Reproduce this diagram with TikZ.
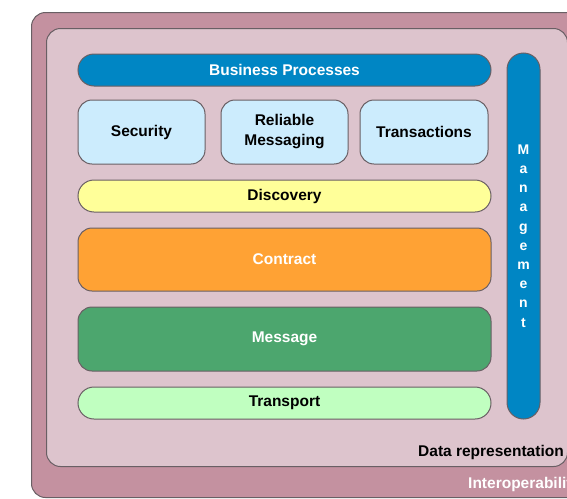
\documentclass[tikz,border=0pt]{standalone}
\usepackage{fontspec}
\setmainfont{Liberation Sans}
\usepackage{xcolor}
\usepackage{tikz}
\usetikzlibrary{shapes.geometric, positioning}

\definecolor{outerfill}{RGB}{196,145,160}
\definecolor{innerfill}{RGB}{221,196,205}
\definecolor{edgegray}{RGB}{105,95,100}
\definecolor{bizblue}{RGB}{0,134,196}
\definecolor{qosblue}{RGB}{204,236,253}
\definecolor{discyellow}{RGB}{255,255,153}
\definecolor{controrange}{RGB}{255,162,52}
\definecolor{msggreen}{RGB}{76,166,110}
\definecolor{transgreen}{RGB}{192,255,192}

\tikzstyle{frame} = [rectangle, rounded corners=14pt, draw=edgegray, line width=1pt, anchor=north west]
\tikzstyle{layer} = [rectangle, minimum width=413pt, text centered, draw=edgegray, line width=1pt, font=\fontsize{15.5}{20}\selectfont\bfseries]
\tikzstyle{thin} = [layer, minimum height=32pt, rounded corners=16pt]
\tikzstyle{thick} = [layer, minimum height=63pt, rounded corners=14pt]
\tikzstyle{qos} = [layer, minimum width=127pt, minimum height=64pt, rounded corners=14pt, fill=qosblue, align=center]
\tikzstyle{caption} = [font=\fontsize{15.5}{20}\selectfont\bfseries, inner sep=0pt]

\begin{document}
\begin{tikzpicture}[x=1pt, y=-1pt]
  \useasboundingbox (0,0) rectangle (567,498);
  \clip (0,0) rectangle (567,498);

  % frames
  \node (interop) [frame, fill=outerfill, minimum width=600pt, minimum height=485pt] at (31,12) {};
  \node (datarep) [frame, fill=innerfill, minimum width=521pt, minimum height=438pt] at (46,28) {};

  % layers
  \node (business)  [thin, fill=bizblue, text=white] at (284.5,70) {Business Processes};
  \node (security)  [qos] at (141.5,132) {Security};
  \node (reliable)  [qos] at (284.5,132) {Reliable\\Messaging};
  \node (transact)  [qos, minimum width=128pt] at (424,132) {Transactions};
  \node (discovery) [thin, fill=discyellow] at (284.5,196) {Discovery};
  \node (contract)  [thick, fill=controrange, text=white] at (284.5,259.5) {Contract};
  \node (message)   [thick, minimum height=64pt, fill=msggreen, text=white] at (284.5,339) {Message};
  \node (transport) [thin, fill=transgreen] at (284.5,403) {Transport};

  % management column
  \node (manage) [layer, minimum width=33pt, minimum height=366pt, rounded corners=16.5pt,
    fill=bizblue, text=white, align=center, font=\fontsize{14}{19.2}\selectfont\bfseries]
    at (523.5,236) {M\\a\\n\\a\\g\\e\\m\\e\\n\\t};

  % frame captions
  \node (datalabel) [caption, anchor=west] at (418,452) {Data representation};
  \node (interlabel) [caption, anchor=west, text=white] at (468,484) {Interoperability};
\end{tikzpicture}
\end{document}
